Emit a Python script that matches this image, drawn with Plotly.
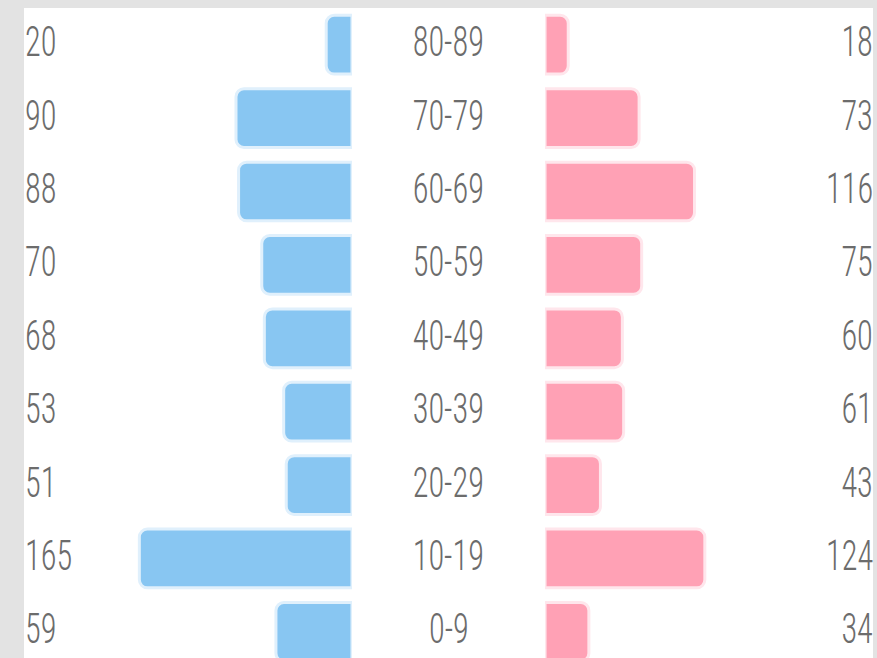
import plotly.graph_objects as go

# Data (bottom to top)
age_groups = ["0-9", "10-19", "20-29", "30-39", "40-49", "50-59", "60-69", "70-79", "80-89"]
male = [59, 165, 51, 53, 68, 70, 88, 90, 20]
female = [34, 124, 43, 61, 60, 75, 116, 73, 18]

BLUE = "#88c6f2"
PINK = "#ffa1b5"
TEXT = "#6c6c6c"
FONT = "Roboto Condensed, DejaVu Sans Condensed, sans-serif"
FSIZE = 42

fig = go.Figure()
fig.add_trace(go.Bar(
    y=age_groups, x=male, orientation="h", xaxis="x", yaxis="y",
    marker=dict(color=BLUE, line=dict(color="#e0f0fc", width=3)),
    width=0.8, hoverinfo="skip", showlegend=False,
))
fig.add_trace(go.Bar(
    y=age_groups, x=female, orientation="h", xaxis="x2", yaxis="y",
    marker=dict(color=PINK, line=dict(color="#ffe6ec", width=3)),
    width=0.8, hoverinfo="skip", showlegend=False,
))

annotations = []
for ag, m, f in zip(age_groups, male, female):
    annotations.append(dict(x=0.5, y=ag, xref="paper", yref="y", text=ag,
                            showarrow=False, xanchor="center", yanchor="middle", yshift=3,
                            font=dict(family=FONT, size=FSIZE, color=TEXT, weight=300)))
    annotations.append(dict(x=0, y=ag, xref="paper", yref="y", text=str(m),
                            showarrow=False, xanchor="left", yanchor="middle",
                            xshift=-1, yshift=3,
                            font=dict(family=FONT, size=FSIZE, color=TEXT, weight=300)))
    annotations.append(dict(x=1, y=ag, xref="paper", yref="y", text=str(f),
                            showarrow=False, xanchor="right", yanchor="middle",
                            xshift=2, yshift=3,
                            font=dict(family=FONT, size=FSIZE, color=TEXT, weight=300)))

fig.update_layout(
    width=877, height=658,
    margin=dict(l=24, r=4, t=8, b=0, pad=0),
    paper_bgcolor="#e3e3e3",
    plot_bgcolor="#ffffff",
    barcornerradius=8,
    xaxis=dict(domain=[0, 0.3863], range=[254.5, 0], visible=False, fixedrange=True),
    xaxis2=dict(domain=[0.6137, 1], range=[0, 254.5], visible=False, fixedrange=True),
    yaxis=dict(range=[-0.356, 8.5], visible=False, fixedrange=True),
    shapes=[dict(type="rect", xref="paper", yref="paper", x0=0, x1=1, y0=0, y1=1,
                 fillcolor="#ffffff", line=dict(width=0), layer="below")],
    annotations=annotations,
)

post = """
document.body.style.margin='0';
document.body.style.background='#e3e3e3';
var origins = ['center', 'left', 'right'];
document.querySelectorAll('.annotation-text').forEach(function(el, i){
  el.style.transformBox = 'fill-box';
  el.style.transformOrigin = origins[i % 3] + ' center';
  el.style.transform = 'scaleX(0.77)';
});
"""

fig.write_html("out.html", config={"displayModeBar": False}, post_script=post)
